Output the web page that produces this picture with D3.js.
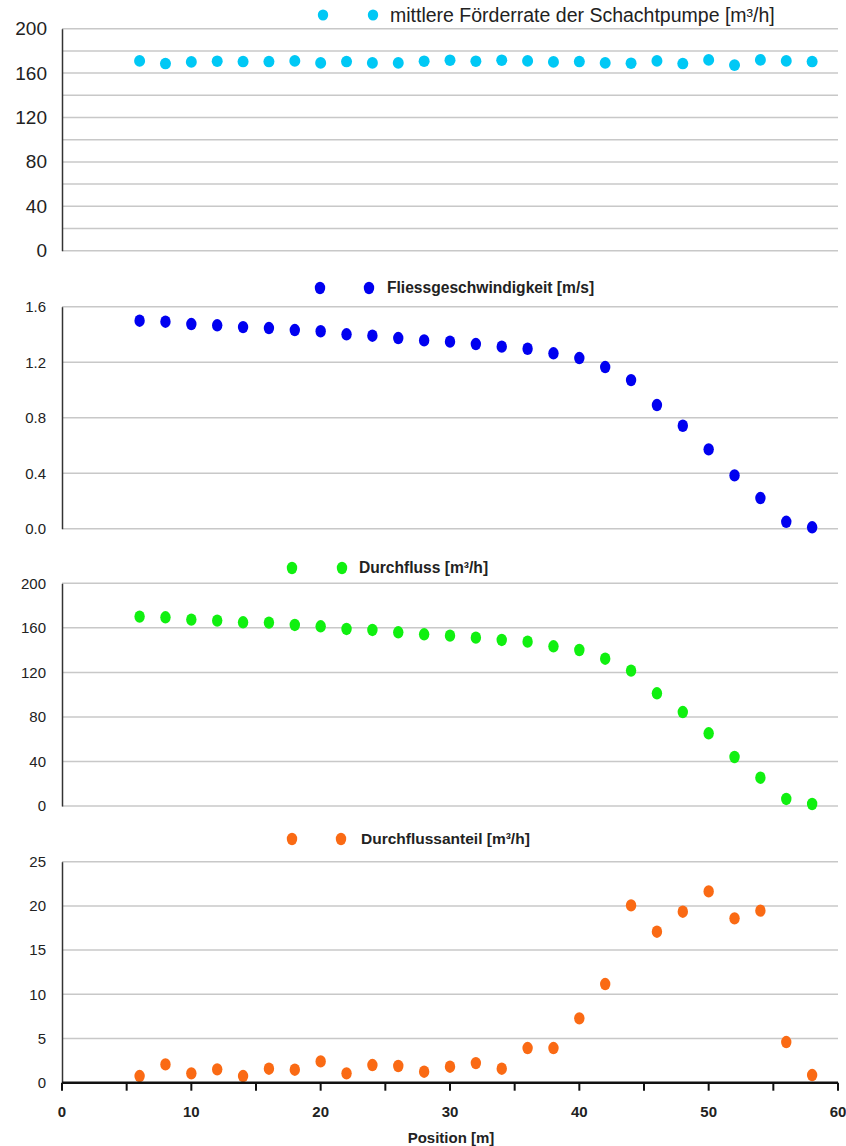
<!DOCTYPE html>
<html><head><meta charset="utf-8">
<script src="https://cdn.jsdelivr.net/npm/d3@7"></script>
<style>
html,body{margin:0;padding:0;background:#fff;}
svg{display:block;}
</style></head>
<body>
<svg id="chart" width="846" height="1146"></svg>
<script>
// ---- data ----
const positions = [6,8,10,12,14,16,18,20,22,24,26,28,30,32,34,36,38,40,42,44,46,48,50,52,54,56,58];
const foerderrate = [171.0,168.6,170.1,170.7,170.4,170.4,171.0,169.2,170.4,169.2,169.2,170.7,171.6,170.7,171.6,171.0,170.1,170.4,169.2,168.9,171.0,168.6,171.9,167.2,171.9,171.0,170.4];
const fliessgeschwindigkeit = [1.499,1.492,1.475,1.466,1.453,1.446,1.432,1.423,1.401,1.391,1.374,1.357,1.348,1.331,1.312,1.297,1.264,1.230,1.165,1.071,0.891,0.742,0.572,0.384,0.221,0.050,0.010];
const durchfluss = [170.1,169.5,167.4,166.5,165.0,164.7,162.6,161.4,159.0,158.1,156.0,154.2,153.0,151.2,149.1,147.6,143.4,140.1,132.3,121.6,101.2,84.4,65.3,44.0,25.4,6.3,1.8];
const durchflussanteil = [0.75,2.07,1.06,1.51,0.75,1.58,1.47,2.41,1.06,2.00,1.89,1.24,1.81,2.22,1.58,3.92,3.92,7.28,11.16,20.06,17.08,19.34,21.64,18.59,19.46,4.60,0.87];

const xTicksMajor = [0,10,20,30,40,50,60];
const xTicksMinor = [0,5,10,15,20,25,30,35,40,45,50,55,60];
const yTicks1 = [0,40,80,120,160,200];
const yGrid1 = [0,20,40,60,80,100,120,140,160,180,200];
const yTicks2 = [0,0.4,0.8,1.2,1.6];
const yTicks3 = [0,40,80,120,160,200];
const yTicks4 = [0,5,10,15,20,25];

const labels = ["mittlere Förderrate der Schachtpumpe [m³/h]","Fliessgeschwindigkeit [m/s]","Durchfluss [m³/h]","Durchflussanteil [m³/h]"];
const colors = ["#00c8f5","#0000f0","#10f010","#fa6a14"];

// ---- drawing ----
const svg = d3.select("#chart");
const x = d3.scaleLinear().domain([0,60]).range([62,838]);
const FONT = "'Liberation Sans', Arial, sans-serif";

const panels = [
  {values: foerderrate, domain:[0,200], range:[250.7,28.7], ticks:yTicks1, grid:yGrid1, fmt:d3.format("d"),
   color:colors[0], label:labels[0], legY:15, dot1:323, dot2:373, textX:390, big:true, legSize:19.5},
  {values: fliessgeschwindigkeit, domain:[0,1.6], range:[528.7,306.7], ticks:yTicks2, grid:yTicks2, fmt:d3.format(".1f"),
   color:colors[1], label:labels[1], legY:288, dot1:320, dot2:369, textX:387, big:false, legSize:15.6},
  {values: durchfluss, domain:[0,200], range:[806,583.3], ticks:yTicks3, grid:yTicks3, fmt:d3.format("d"),
   color:colors[2], label:labels[2], legY:568, dot1:292, dot2:342, textX:359, big:false, legSize:15.6},
  {values: durchflussanteil, domain:[0,25], range:[1082.7,861.7], ticks:yTicks4, grid:yTicks4, fmt:d3.format("d"),
   color:colors[3], label:labels[3], legY:839, dot1:292, dot2:341, textX:361, big:false, legSize:15.5}
];

panels.forEach((p,i)=>{
  const y = d3.scaleLinear().domain(p.domain).range(p.range);
  const g = svg.append("g");
  // gridlines
  g.append("g").selectAll("line").data(p.grid).join("line")
    .attr("x1",x(0)).attr("x2",x(60))
    .attr("y1",d=>y(d)).attr("y2",d=>y(d))
    .attr("stroke","#c8c8c8").attr("stroke-width",1.5);
  // left axis
  const ax = g.append("g").attr("transform",`translate(${x(0)},0)`)
    .call(d3.axisLeft(y).tickValues(p.ticks).tickFormat(p.fmt).tickSize(0).tickPadding(p.big?15:16));
  ax.select(".domain").attr("stroke","#333").attr("stroke-width",1.5);
  ax.selectAll("text")
    .attr("fill","#222")
    .style("font-family", FONT)
    .style("font-size", p.big ? "19px" : "15px");
  // points
  g.append("g").selectAll("ellipse").data(positions.map((pos,k)=>[pos,p.values[k]])).join("ellipse")
    .attr("cx",d=>x(d[0])).attr("cy",d=>y(d[1]))
    .attr("rx",p.big?5.5:5.2).attr("ry",p.big?5.8:6.2)
    .attr("fill",p.color);
  // legend
  const lg = g.append("g");
  [p.dot1,p.dot2].forEach(cx=>{
    lg.append("ellipse").attr("cx",cx).attr("cy",p.legY).attr("rx",p.big?5.2:5.2).attr("ry",p.big?5.5:6.2).attr("fill",p.color);
  });
  lg.append("text").attr("x",p.textX).attr("y",p.legY).attr("dy","0.35em")
    .attr("fill","#222")
    .style("font-family", FONT)
    .style("font-weight", p.big ? "normal" : "bold")
    .style("font-size", p.legSize + "px")
    .text(p.label);

  if(i===3){
    // bottom x axis
    const xa = svg.append("g").attr("transform",`translate(0,${y(0)})`);
    xa.append("line").attr("x1",x(0)).attr("x2",x(60)).attr("y1",0).attr("y2",0)
      .attr("stroke","#111").attr("stroke-width",2.5);
    xa.selectAll("line.tk").data(xTicksMinor).join("line").attr("class","tk")
      .attr("x1",d=>x(d)).attr("x2",d=>x(d)).attr("y1",0).attr("y2",8)
      .attr("stroke","#111").attr("stroke-width",2);
    xa.selectAll("text.tl").data(xTicksMajor).join("text").attr("class","tl")
      .attr("x",d=>x(d)).attr("y",34).attr("text-anchor","middle")
      .attr("fill","#222")
      .style("font-family",FONT)
      .style("font-weight","bold").style("font-size","15px")
      .text(d=>d);
    svg.append("text").attr("x",451).attr("y",1143).attr("text-anchor","middle")
      .attr("fill","#222")
      .style("font-family",FONT)
      .style("font-weight","bold").style("font-size","15px")
      .text("Position [m]");
  }
});
</script>
</body></html>
